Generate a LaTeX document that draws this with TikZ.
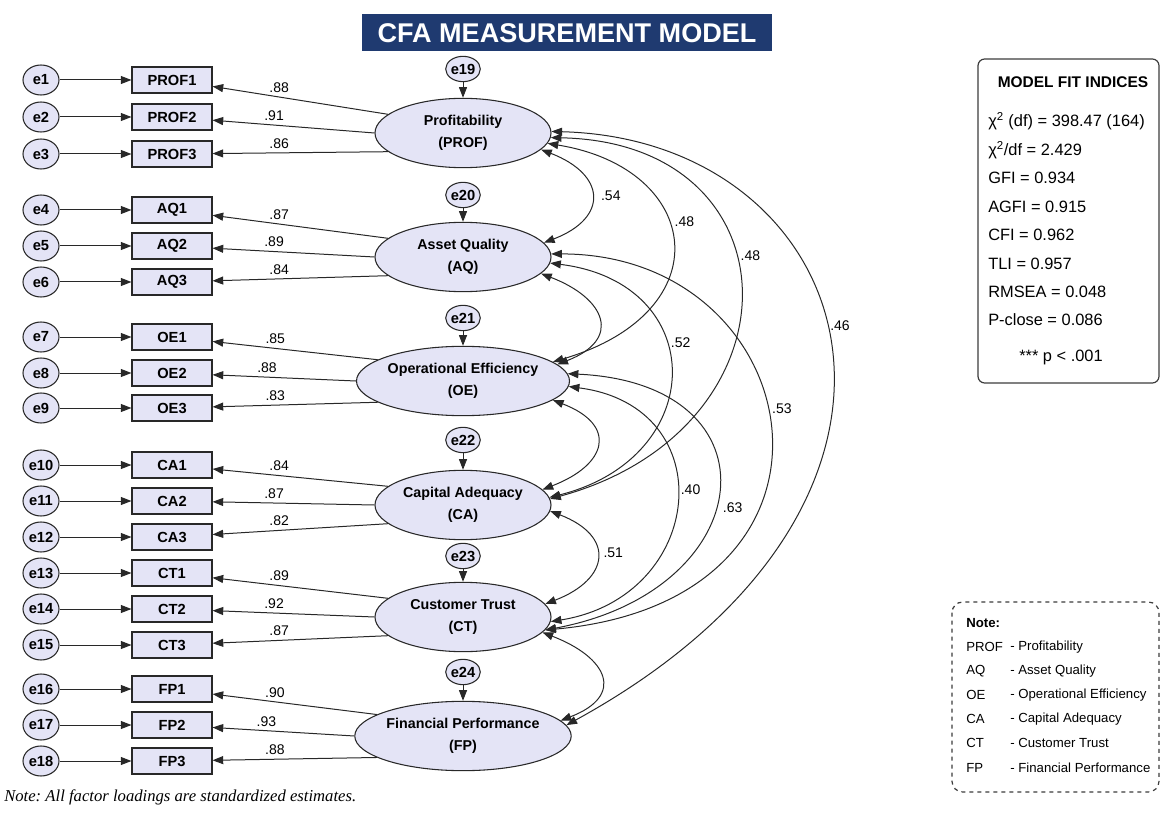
\documentclass[tikz,border=0pt]{standalone}
\usepackage{fontspec}
\setmainfont{Liberation Sans}
\newfontfamily\notefont{Liberation Serif}
\usetikzlibrary{arrows.meta,shapes.geometric}

\definecolor{lav}{RGB}{228,228,246}
\definecolor{navy}{RGB}{31,58,112}
\definecolor{ink}{RGB}{40,40,40}

\tikzset{
  lat/.style={ellipse,draw=ink,fill=lav,line width=0.8pt,minimum width=132pt,minimum height=52pt,inner sep=0pt,align=center,font=\bfseries\fontsize{10.7}{16.5}\selectfont},
  obs/.style={rectangle,draw=ink,fill=lav,line width=0.8pt,minimum width=60pt,minimum height=19.5pt,inner sep=0pt,font=\bfseries\fontsize{11}{13}\selectfont},
  err/.style={ellipse,draw=ink,fill=lav,line width=0.8pt,minimum width=27pt,minimum height=22.5pt,inner sep=0pt,font=\bfseries\fontsize{11}{13}\selectfont},
  dis/.style={err,minimum width=22.5pt,minimum height=19pt},
  arr/.style={-{Triangle[length=8pt,width=6pt]},line width=0.75pt,draw=ink},
  cov/.style={{Triangle[length=8pt,width=6pt]}-{Triangle[length=8pt,width=6pt]},line width=0.75pt,draw=ink},
  ld/.style={anchor=south,inner sep=3pt,font=\fontsize{10.5}{12}\selectfont},
  cl/.style={anchor=west,inner sep=1pt,font=\fontsize{10.5}{12}\selectfont},
  ttl/.style={fill=navy,text=white,minimum width=308pt,minimum height=27.75pt,inner sep=0pt,font=\bfseries\fontsize{20.3}{24}\selectfont},
  boxline/.style={draw={rgb,255:red,60;green,60;blue,60},line width=0.9pt,rounded corners=5pt,fill=white},
  ft/.style={anchor=west,inner sep=0pt,font=\fontsize{12.3}{14}\selectfont},
  nt/.style={anchor=west,inner sep=0pt,font=\fontsize{9.9}{12}\selectfont}
}

\begin{document}
\begin{tikzpicture}[x=0.75pt,y=0.75pt,yscale=-1,xscale=1]
\useasboundingbox (0,0) rectangle (1161,813);

% Title
\node[ttl] (title) at (567,33) {CFA MEASUREMENT MODEL};

%Shape: Ellipse - latent factors
\node[lat] (prof) at (463,133) {Profitability\\(PROF)};
\node[lat] (aq) at (463,257) {Asset Quality\\(AQ)};
\node[lat] (oe) at (463,381) {Operational Efficiency\\(OE)};
\node[lat] (ca) at (463,505) {Capital Adequacy\\(CA)};
\node[lat] (ct) at (463,617) {Customer Trust\\(CT)};
\node[lat] (fp) at (463,736) {Financial Performance\\(FP)};

%Shape: Ellipse - disturbances
\node[dis] (e19) at (463,69) {e19};
\node[dis] (e20) at (463,195) {e20};
\node[dis] (e21) at (463,318) {e21};
\node[dis] (e22) at (463,440) {e22};
\node[dis] (e23) at (463,556) {e23};
\node[dis] (e24) at (463,672) {e24};

\draw[arr] (e19) -- (prof);
\draw[arr] (e20) -- (aq);
\draw[arr] (e21) -- (oe);
\draw[arr] (e22) -- (ca);
\draw[arr] (e23) -- (ct);
\draw[arr] (e24) -- (fp);

%Shape: Rectangle - indicators and errors
\node[err] (e1) at (41,80) {e1};
\node[obs] (prof1) at (172,80) {PROF1};
\node[err] (e2) at (41,117) {e2};
\node[obs] (prof2) at (172,117) {PROF2};
\node[err] (e3) at (41,154) {e3};
\node[obs] (prof3) at (172,154) {PROF3};

\node[err] (e4) at (41,210) {e4};
\node[obs] (aq1) at (172,210) {AQ1};
\node[err] (e5) at (41,246) {e5};
\node[obs] (aq2) at (172,246) {AQ2};
\node[err] (e6) at (41,282) {e6};
\node[obs] (aq3) at (172,282) {AQ3};

\node[err] (e7) at (41,337) {e7};
\node[obs] (oe1) at (172,337) {OE1};
\node[err] (e8) at (41,373) {e8};
\node[obs] (oe2) at (172,373) {OE2};
\node[err] (e9) at (41,408) {e9};
\node[obs] (oe3) at (172,408) {OE3};

\node[err] (e10) at (41,465) {e10};
\node[obs] (ca1) at (172,465) {CA1};
\node[err] (e11) at (41,501) {e11};
\node[obs] (ca2) at (172,501) {CA2};
\node[err] (e12) at (41,537) {e12};
\node[obs] (ca3) at (172,537) {CA3};

\node[err] (e13) at (41,573) {e13};
\node[obs] (ct1) at (172,573) {CT1};
\node[err] (e14) at (41,609) {e14};
\node[obs] (ct2) at (172,609) {CT2};
\node[err] (e15) at (41,645) {e15};
\node[obs] (ct3) at (172,645) {CT3};

\node[err] (e16) at (41,689) {e16};
\node[obs] (fp1) at (172,689) {FP1};
\node[err] (e17) at (41,725) {e17};
\node[obs] (fp2) at (172,725) {FP2};
\node[err] (e18) at (41,761) {e18};
\node[obs] (fp3) at (172,761) {FP3};

% error arrows
\draw[arr] (e1) -- (prof1);
\draw[arr] (e2) -- (prof2);
\draw[arr] (e3) -- (prof3);
\draw[arr] (e4) -- (aq1);
\draw[arr] (e5) -- (aq2);
\draw[arr] (e6) -- (aq3);
\draw[arr] (e7) -- (oe1);
\draw[arr] (e8) -- (oe2);
\draw[arr] (e9) -- (oe3);
\draw[arr] (e10) -- (ca1);
\draw[arr] (e11) -- (ca2);
\draw[arr] (e12) -- (ca3);
\draw[arr] (e13) -- (ct1);
\draw[arr] (e14) -- (ct2);
\draw[arr] (e15) -- (ct3);
\draw[arr] (e16) -- (fp1);
\draw[arr] (e17) -- (fp2);
\draw[arr] (e18) -- (fp3);

% loadings
\draw[arr] (prof.166) -- node[ld,pos=.62] {.88} (prof1);
\draw[arr] (prof.180) -- node[ld,pos=.62] {.91} (prof2);
\draw[arr] (prof.194) -- node[ld,pos=.62] {.86} (prof3);
\draw[arr] (aq.166) -- node[ld,pos=.62] {.87} (aq1);
\draw[arr] (aq.180) -- node[ld,pos=.62] {.89} (aq2);
\draw[arr] (aq.194) -- node[ld,pos=.62] {.84} (aq3);
\draw[arr] (oe.166) -- node[ld,pos=.62] {.85} (oe1);
\draw[arr] (oe.180) -- node[ld,pos=.62] {.88} (oe2);
\draw[arr] (oe.194) -- node[ld,pos=.62] {.83} (oe3);
\draw[arr] (ca.166) -- node[ld,pos=.62] {.84} (ca1);
\draw[arr] (ca.180) -- node[ld,pos=.62] {.87} (ca2);
\draw[arr] (ca.194) -- node[ld,pos=.62] {.82} (ca3);
\draw[arr] (ct.166) -- node[ld,pos=.62] {.89} (ct1);
\draw[arr] (ct.180) -- node[ld,pos=.62] {.92} (ct2);
\draw[arr] (ct.194) -- node[ld,pos=.62] {.87} (ct3);
\draw[arr] (fp.166) -- node[ld,pos=.62] {.90} (fp1);
\draw[arr] (fp.180) -- node[ld,pos=.62] {.93} (fp2);
\draw[arr] (fp.194) -- node[ld,pos=.62] {.88} (fp3);

%Curve Lines - covariances
\draw[cov] (prof.-12) .. controls +(65,25) and +(65,-25) .. node[cl,pos=.5,xshift=6pt] {.54} (aq.10);
\draw[cov] (prof.-7) .. controls +(155,25) and +(170,-50) .. node[cl,pos=.42,xshift=4pt] {.48} (oe.12);
\draw[cov] (prof.-3) .. controls +(250,5) and +(255,-70) .. node[cl,pos=.42,xshift=3pt] {.48} (ca.4);
\draw[cov] (prof.1) .. controls +(310,8) and +(412,-226) .. node[cl,pos=.47,xshift=2pt] {.46} (fp.6);
\draw[cov] (aq.-12) .. controls +(65,25) and +(65,-25) .. (oe.10);
\draw[cov] (aq.-4) .. controls +(160,20) and +(160,-40) .. node[cl,pos=.4,xshift=3pt] {.52} (ca.5);
\draw[cov] (aq.2) .. controls +(260,0) and +(330,-30) .. node[cl,pos=.46,xshift=3pt] {.53} (ct.-9);
\draw[cov] (oe.-12) .. controls +(65,25) and +(65,-25) .. (ca.11);
\draw[cov] (oe.-3) .. controls +(155,20) and +(155,-25) .. node[cl,pos=.46,xshift=2pt] {.40} (ct.-3);
\draw[cov] (oe.4) .. controls +(215,10) and +(215,-40) .. node[cl,pos=.55,xshift=5pt] {.63} (ct.-9);
\draw[cov] (ca.-4) .. controls +(65,25) and +(65,-25) .. node[cl,pos=.45,xshift=4pt] {.51} (ct.9);
\draw[cov] (ct.-11) .. controls +(65,25) and +(65,-25) .. (fp.9);

%Shape: Rectangle - fit indices
\draw[boxline] (978,59) rectangle (1159,383);
\node[anchor=center,inner sep=0pt,font=\bfseries\fontsize{11.6}{13}\selectfont] (fithd) at (1073,82) {MODEL FIT INDICES};
\node[ft] (fit1) at (988,121) {χ\textsuperscript{2} (df) = 398.47 (164)};
\node[ft] (fit2) at (988,150) {χ\textsuperscript{2}/df = 2.429};
\node[ft] (fit3) at (988,178) {GFI = 0.934};
\node[ft] (fit4) at (988,207) {AGFI = 0.915};
\node[ft] (fit5) at (988,235) {CFI = 0.962};
\node[ft] (fit6) at (988,264) {TLI = 0.957};
\node[ft] (fit7) at (988,292) {RMSEA = 0.048};
\node[ft] (fit8) at (988,320) {P-close = 0.086};
\node[anchor=center,inner sep=0pt,font=\fontsize{12.3}{14}\selectfont] (fit9) at (1061,357) {*** p < .001};

%Shape: Rectangle - note
\draw[boxline,dashed,rounded corners=8pt] (952,602) rectangle (1159,792);
\node[nt] (nhd) at (966,623) {\bfseries Note:};
\node[nt] (nk1) at (966,647) {PROF};
\node[nt] (nv1) at (1010,647) {- Profitability};
\node[nt] (nk2) at (966,671) {AQ};
\node[nt] (nv2) at (1010,671) {- Asset Quality};
\node[nt] (nk3) at (966,695) {OE};
\node[nt] (nv3) at (1010,695) {- Operational Efficiency};
\node[nt] (nk4) at (966,719) {CA};
\node[nt] (nv4) at (1010,719) {- Capital Adequacy};
\node[nt] (nk5) at (966,743) {CT};
\node[nt] (nv5) at (1010,743) {- Customer Trust};
\node[nt] (nk6) at (966,768) {FP};
\node[nt] (nv6) at (1010,768) {- Financial Performance};

% Text Node
\node[anchor=west,inner sep=0pt,font=\notefont\itshape\fontsize{12.5}{15}\selectfont\frenchspacing] (fnote) at (4,797) {Note: All factor loadings are standardized estimates.};

\end{tikzpicture}
\end{document}
